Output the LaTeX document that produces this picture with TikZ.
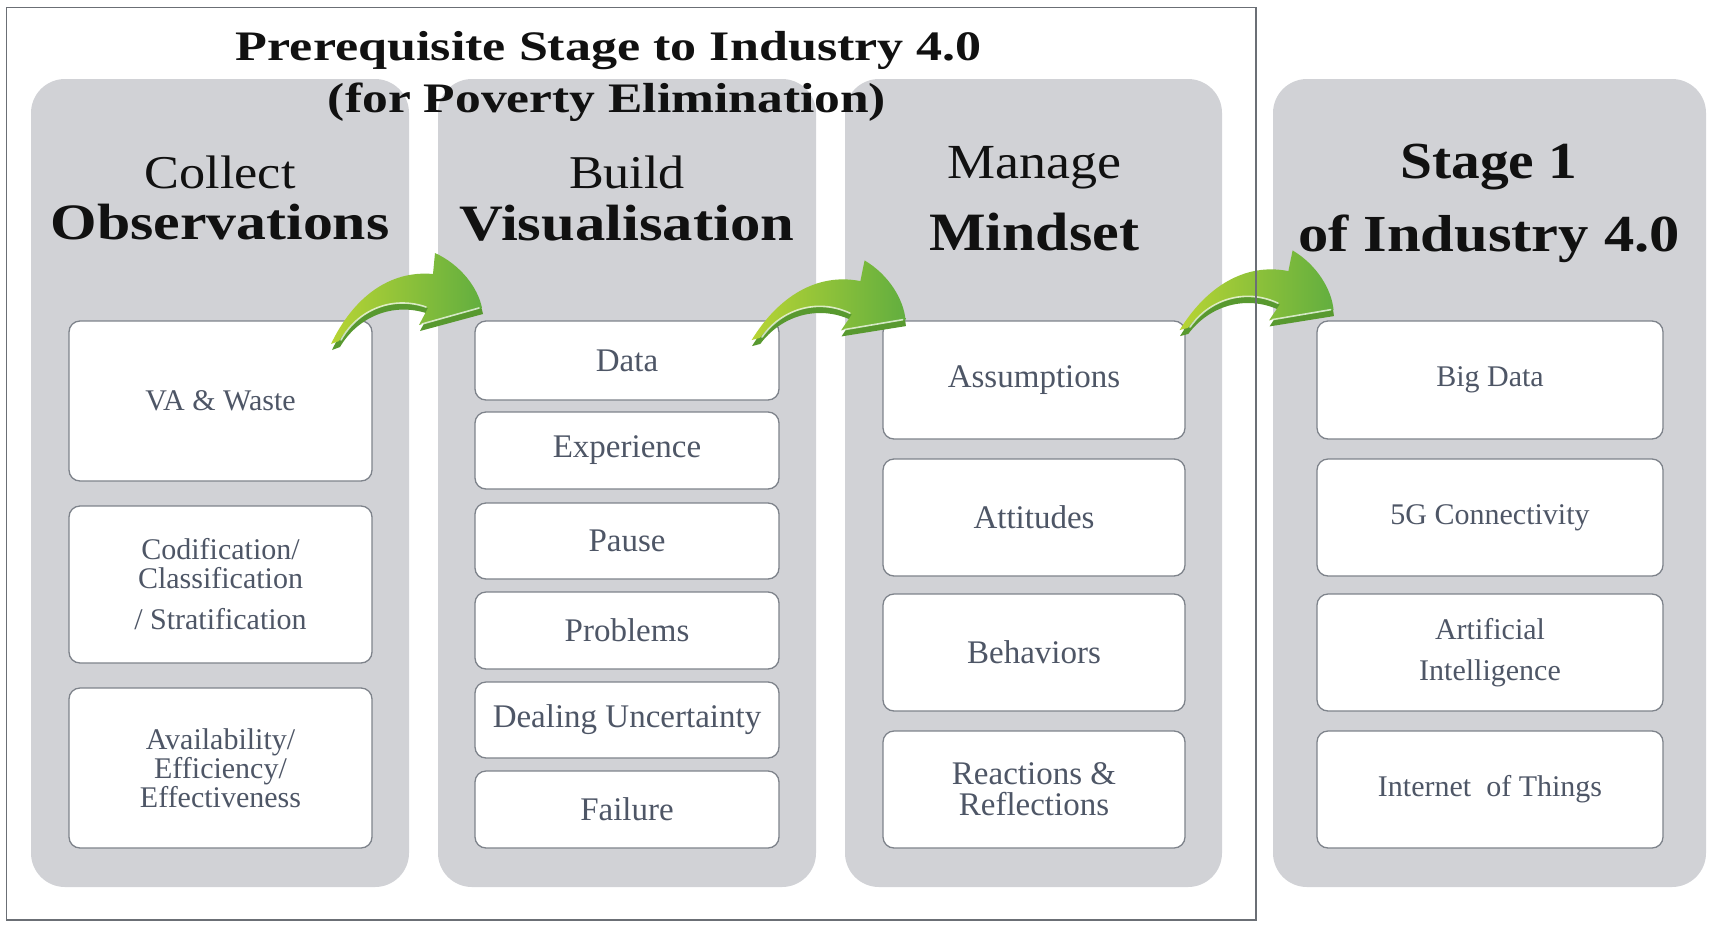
\documentclass[tikz,border=0pt]{standalone}
\usepackage{fontspec}
\setmainfont{Liberation Serif}
\usepackage{graphicx}
\definecolor{panelgray}{HTML}{D1D2D6}
\definecolor{boxline}{HTML}{7E838B}
\definecolor{boxtext}{HTML}{4E5666}
\definecolor{frameline}{HTML}{6B6F75}
\definecolor{headblack}{HTML}{111111}
\definecolor{agreenA}{HTML}{B7D434}
\definecolor{agreenB}{HTML}{62AE3F}
\definecolor{agreenD}{HTML}{58992F}
\newcommand\fitw[3]{\resizebox{#1pt}{\height}{\fontsize{#2}{#2}\selectfont #3}}
\tikzset{
  panel/.style={fill=panelgray, rounded corners=34pt, inner sep=0pt, outer sep=0pt},
  card/.style={draw=boxline, line width=1.3pt, fill=white, rounded corners=11pt, align=center, text=boxtext, inner sep=0pt},
  cardA/.style={card, font=\fontsize{30}{29}\selectfont},
  cardB/.style={card, font=\fontsize{33}{31}\selectfont},
  hdr/.style={anchor=base, text=headblack, inner sep=0pt},
  garrow/.pic={
    \begin{scope}[shift={(1,6)}]
      \fill[agreenD] (0,-6) .. controls (22,-52) and (58,-80) .. (102,-76) -- (104,-97) .. controls (130,-85) and (147,-62) .. (151,-42) -- (88,-25) -- (97,-42) .. controls (60,-55) and (25,-38) .. (8,-9) -- cycle;
    \end{scope}
    \shade[left color=agreenA, right color=agreenB] (0,-6) .. controls (22,-52) and (58,-80) .. (102,-76) -- (104,-97) .. controls (130,-85) and (147,-62) .. (151,-42) -- (88,-25) -- (97,-42) .. controls (60,-55) and (25,-38) .. (8,-9) -- cycle;
    \draw[white, line width=1.6pt, opacity=0.7, line cap=round] (91,-26) -- (148,-42);
    \draw[white, line width=1.6pt, opacity=0.7, line cap=round] (95,-43) .. controls (60,-55) and (26,-39) .. (10,-10);
  }
}
\begin{document}
\begin{tikzpicture}[x=1pt,y=-1pt]
\useasboundingbox (0,0) rectangle (1713,927);
% panels
\node[panel, minimum width=378pt, minimum height=808pt] (p1) at (220,483) {};
\node[panel, minimum width=378pt, minimum height=808pt] (p2) at (627,483) {};
\node[panel, minimum width=377pt, minimum height=808pt] (p3) at (1033.5,483) {};
\node[panel, minimum width=433pt, minimum height=808pt] (p4) at (1489.5,483) {};
% headers
\node[hdr] (h1a) at (220,188) {\fitw{151}{47}{Collect}};
\node[hdr] (h1b) at (220,239) {\bfseries\fitw{339}{51}{Observations}};
\node[hdr] (h2a) at (627,188) {\fitw{116}{47}{Build}};
\node[hdr] (h2b) at (627,240) {\bfseries\fitw{335}{51}{Visualisation}};
\node[hdr] (h3a) at (1034,178) {\fitw{174}{49}{Manage}};
\node[hdr] (h3b) at (1034,250) {\bfseries\fitw{210}{54}{Mindset}};
\node[hdr] (h4a) at (1489,178) {\bfseries\fitw{177}{52}{Stage 1}};
\node[hdr] (h4b) at (1489,251) {\bfseries\fitw{382}{52}{of Industry 4.0}};
% panel 1 cards
\node[cardA, minimum width=303pt, minimum height=160pt] (b11) at (220.5,401) {VA \& Waste};
\node[cardA, minimum width=303pt, minimum height=157pt] (b12) at (220.5,584.5) {Codification/\\Classification\\[12pt]/ Stratification};
\node[cardA, minimum width=303pt, minimum height=160pt] (b13) at (220.5,768) {Availability/\\Efficiency/\\Effectiveness};
% panel 2 cards
\node[cardB, minimum width=304pt, minimum height=79pt] (b21) at (627,360.5) {Data};
\node[cardB, minimum width=304pt, minimum height=77pt] (b22) at (627,450.5) {Experience};
\node[cardB, minimum width=304pt, minimum height=76pt] (b23) at (627,541) {Pause};
\node[cardB, minimum width=304pt, minimum height=77pt] (b24) at (627,630.5) {Problems};
\node[cardB, minimum width=304pt, minimum height=76pt] (b25) at (627,720) {Dealing Uncertainty};
\node[cardB, minimum width=304pt, minimum height=77pt] (b26) at (627,809.5) {Failure};
% panel 3 cards
\node[cardB, minimum width=302pt, minimum height=118pt] (b31) at (1034,380) {Assumptions};
\node[cardB, minimum width=302pt, minimum height=117pt] (b32) at (1034,517.5) {Attitudes};
\node[cardB, minimum width=302pt, minimum height=117pt] (b33) at (1034,652.5) {Behaviors};
\node[cardB, minimum width=302pt, minimum height=117pt] (b34) at (1034,789.5) {Reactions \&\\Reflections};
% panel 4 cards
\node[cardA, minimum width=346pt, minimum height=118pt] (b41) at (1490,380) {Big Data};
\node[cardA, minimum width=346pt, minimum height=117pt] (b42) at (1490,517.5) {5G Connectivity};
\node[cardA, minimum width=346pt, minimum height=117pt, font=\fontsize{30}{41}\selectfont] (b43) at (1490,652.5) {Artificial\\Intelligence};
\node[cardA, minimum width=346pt, minimum height=117pt] (b44) at (1490,789.5) {Internet\ \ of Things};
% title
\node[hdr] (t1) at (609,60) {\bfseries\fitw{746}{42}{Prerequisite Stage to Industry 4.0}};
\node[hdr] (t2) at (607,112) {\bfseries\fitw{558}{42}{(for Poverty Elimination)}};
% arrows
\pic at (331,350) {garrow};
\pic[rotate=-6] at (751,346) {garrow};
\pic[rotate=-6] at (1179,336) {garrow};
% frame
\node[draw=frameline, line width=1.5pt, minimum width=1249.5pt, minimum height=912.5pt, inner sep=0pt] (frame) at (631.25,463.75) {};
\end{tikzpicture}
\end{document}
